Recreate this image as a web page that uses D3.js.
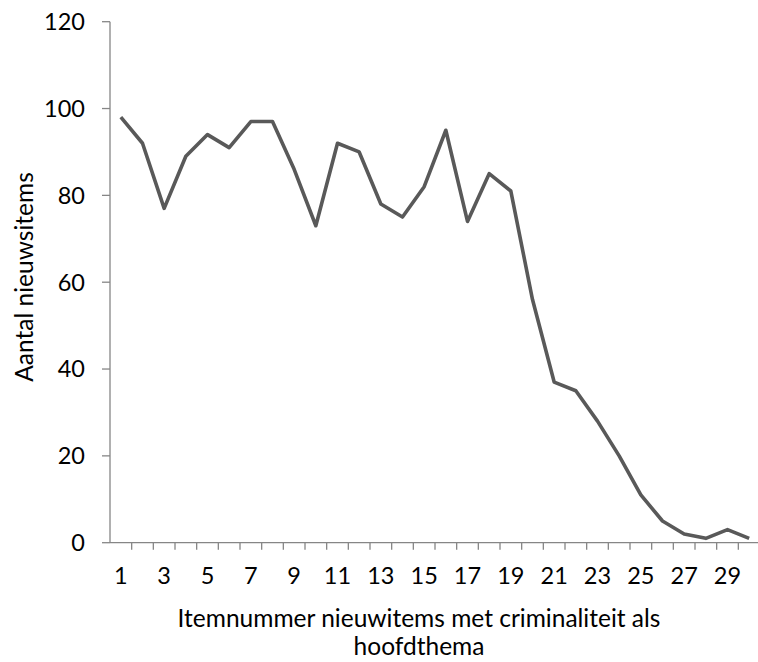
<!DOCTYPE html>
<html>
<head>
<meta charset="utf-8">
<script src="https://cdn.jsdelivr.net/npm/d3@7"></script>
<style>
  html, body { margin: 0; padding: 0; background: #fff; }
  svg { display: block; }
  text { font-family: "Lato", "Open Sans", sans-serif; fill: #000; }
</style>
</head>
<body>
<svg id="chart" width="758" height="662"></svg>
<script>
// Number of news items per item number (main theme: crime)
const itemNumbers = d3.range(1, 31);
const itemCounts = [98, 92, 77, 89, 94, 91, 97, 97, 86, 73,
                    92, 90, 78, 75, 82, 95, 74, 85, 81, 56,
                    37, 35, 28, 20, 11, 5, 2, 1, 3, 1];
const yTickValues = [0, 20, 40, 60, 80, 100, 120];
const xTickLabels = itemNumbers.filter(n => n % 2 === 1);
const yTitle = "Aantal nieuwsitems";
const xTitleLines = ["Itemnummer nieuwitems met criminaliteit als", "hoofdthema"];

const svg = d3.select("#chart");
const plotLeft = 110, plotRight = 760, plotTop = 21.7, plotBottom = 542.7;
const axisColor = "#868686";

const x = d3.scaleBand().domain(itemNumbers).range([plotLeft, plotRight]).padding(0);
const y = d3.scaleLinear().domain([0, 120]).range([plotBottom, plotTop]);

// y axis
const yAxis = svg.append("g");
yAxis.append("line")
  .attr("x1", plotLeft).attr("x2", plotLeft)
  .attr("y1", y(120)).attr("y2", y(0))
  .attr("stroke", axisColor).attr("stroke-width", 1.3);
yAxis.selectAll("line.tick").data(yTickValues).join("line")
  .attr("class", "tick")
  .attr("x1", plotLeft - 8).attr("x2", plotLeft)
  .attr("y1", d => y(d)).attr("y2", d => y(d))
  .attr("stroke", axisColor).attr("stroke-width", 1.3);
yAxis.selectAll("text").data(yTickValues).join("text")
  .attr("x", 85).attr("y", d => y(d))
  .attr("dy", "0.36em")
  .attr("text-anchor", "end")
  .attr("font-size", 23.5)
  .text(d => d);

// x axis
const xAxis = svg.append("g");
xAxis.append("line")
  .attr("x1", plotLeft).attr("x2", plotRight)
  .attr("y1", plotBottom).attr("y2", plotBottom)
  .attr("stroke", axisColor).attr("stroke-width", 1.3);
xAxis.selectAll("line.tick").data(itemNumbers).join("line")
  .attr("class", "tick")
  .attr("x1", d => x(d) + x.bandwidth()).attr("x2", d => x(d) + x.bandwidth())
  .attr("y1", plotBottom).attr("y2", plotBottom + 7)
  .attr("stroke", axisColor).attr("stroke-width", 1.3);
xAxis.selectAll("text").data(xTickLabels).join("text")
  .attr("x", d => x(d) + x.bandwidth() / 2)
  .attr("y", 584)
  .attr("text-anchor", "middle")
  .attr("font-size", 23.5)
  .text(d => d);

// data line
const line = d3.line()
  .x((d, i) => x(itemNumbers[i]) + x.bandwidth() / 2)
  .y(d => y(d));
svg.append("path")
  .datum(itemCounts)
  .attr("d", line)
  .attr("fill", "none")
  .attr("stroke", "#595959")
  .attr("stroke-width", 3.6)
  .attr("stroke-linejoin", "round");

// axis titles
svg.append("text")
  .attr("transform", "translate(33,277) rotate(-90)")
  .attr("text-anchor", "middle")
  .attr("font-size", 24.5)
  .text(yTitle);
svg.selectAll("text.xtitle").data(xTitleLines).join("text")
  .attr("class", "xtitle")
  .attr("x", 419)
  .attr("y", (d, i) => 627 + i * 28)
  .attr("text-anchor", "middle")
  .attr("font-size", 24.5)
  .text(d => d);
</script>
</body>
</html>
